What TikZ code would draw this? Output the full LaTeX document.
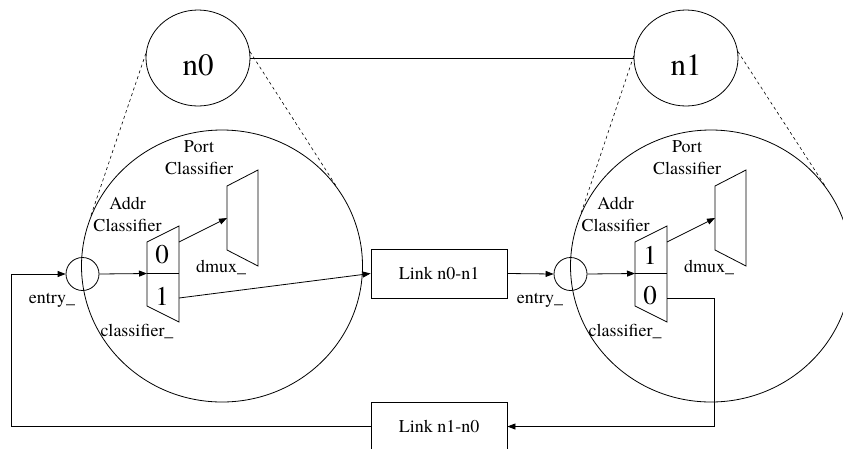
\documentclass[tikz,border=0pt]{standalone}
\usepackage{fontspec}
\setmainfont{texgyretermes-regular.otf}
\usetikzlibrary{positioning}
\usetikzlibrary{shapes.geometric}
\usetikzlibrary{arrows.meta}

\begin{document}
\begin{tikzpicture}[x=1pt,y=-1pt,line width=0.8pt]

            \tikzstyle{nodeCircle} = [shape = ellipse, draw, minimum width=104pt, minimum height=96pt, inner sep=0pt];
            \tikzstyle{zoomCircle} = [shape = ellipse, draw, minimum width=281pt, minimum height=272pt, inner sep=0pt];
            \tikzstyle{entryNode} = [shape = circle, draw, minimum size=33pt, inner sep=0pt];
            \tikzstyle{linkBox} = [shape = rectangle, draw, minimum width=136pt, minimum height=49pt, font=\fontsize{18}{22}\selectfont];
            \tikzstyle{smallText} = [font=\fontsize{18}{22}\selectfont, align=center, inner sep=0pt];
            \tikzstyle{bigText} = [font=\fontsize{31}{36}\selectfont, inner sep=0pt];
            \tikzstyle{slotText} = [font=\fontsize{27}{30}\selectfont, inner sep=0pt];
            \tikzstyle{zoomEdge} = [line width=0.6pt, dash pattern=on 3pt off 3pt];
            \tikzstyle{arrowEdge} = [-{Triangle[length=8pt,width=6pt]}];

            \useasboundingbox (0,0) rectangle (843,448);
            \clip (0,0) rectangle (843,448);

            % the two nodes and their zoomed views
            \node[nodeCircle] (n0) at (198,58) {};
            \node[nodeCircle] (n1) at (686,58) {};
            \node[bigText] (n0lbl) at (198,65) {n0};
            \node[bigText] (n1lbl) at (686,65) {n1};

            \node[zoomCircle] (big0) at (222,266) {};
            \node[zoomCircle] (big1) at (711,266) {};

            \draw (n0.east) -- (n1.west);
            \draw[zoomEdge] (n0.175) -- (big0.160);
            \draw[zoomEdge] (n0.7) -- (big0.35);
            \draw[zoomEdge] (n1.178) -- (big1.158);
            \draw[zoomEdge] (n1.7) -- (big1.35);

            % inside n0
            \node[entryNode] (entry0) at (82.5,274) {};
            \draw (147,242) -- (179,226) -- (179,322) -- (147,306) -- cycle;
            \draw (147,273.5) -- (179,273.5);
            \draw (227,186) -- (258,170) -- (258,266) -- (227,250) -- cycle;
            \coordinate (cls0in) at (147,273.5);
            \coordinate (cls0top) at (179,242);
            \coordinate (cls0bot) at (179,298);
            \coordinate (dmux0in) at (227,218);

            \node[slotText] (slot00) at (162,255) {0};
            \node[slotText] (slot01) at (162,296) {1};
            \node[smallText] (port0) at (199,158) {Port\\Classifier};
            \node[smallText] (addr0) at (127.5,214) {Addr\\Classifier};
            \node[smallText] (dmux0) at (221,267) {dmux\_};
            \node[smallText] (entrylbl0) at (52,300) {entry\_};
            \node[smallText] (clslbl0) at (137,331) {classifier\_};

            % inside n1
            \node[entryNode] (entry1) at (570.5,274) {};
            \draw (635,242) -- (667,226) -- (667,322) -- (635,306) -- cycle;
            \draw (635,273.5) -- (667,273.5);
            \draw (715,186) -- (746,170) -- (746,266) -- (715,250) -- cycle;
            \coordinate (cls1in) at (635,273.5);
            \coordinate (cls1top) at (667,242);
            \coordinate (cls1bot) at (667,298);
            \coordinate (dmux1in) at (715,218);

            \node[slotText] (slot11) at (650,255) {1};
            \node[slotText] (slot10) at (650,296) {0};
            \node[smallText] (port1) at (687,158) {Port\\Classifier};
            \node[smallText] (addr1) at (615.5,214) {Addr\\Classifier};
            \node[smallText] (dmux1) at (709,267) {dmux\_};
            \node[smallText] (entrylbl1) at (540,300) {entry\_};
            \node[smallText] (clslbl1) at (625,331) {classifier\_};

            % links
            \node[linkBox] (link01) at (439,273.5) {Link n0-n1};
            \node[linkBox] (link10) at (439,426.5) {Link n1-n0};
            \coordinate (loopL) at (11,426.5);
            \coordinate (turnR) at (714,298);

            \draw[arrowEdge] (link10.west) -- (loopL) |- (entry0.west);
            \draw[arrowEdge] (entry0.east) -- (cls0in);
            \draw[arrowEdge] (cls0top) -- (dmux0in);
            \draw[arrowEdge] (cls0bot) -- (link01.west);
            \draw[arrowEdge] (link01.east) -- (entry1.west);
            \draw[arrowEdge] (entry1.east) -- (cls1in);
            \draw[arrowEdge] (cls1top) -- (dmux1in);
            \draw[arrowEdge] (cls1bot) -- (turnR) |- (link10.east);
          \end{tikzpicture}
\end{document}
